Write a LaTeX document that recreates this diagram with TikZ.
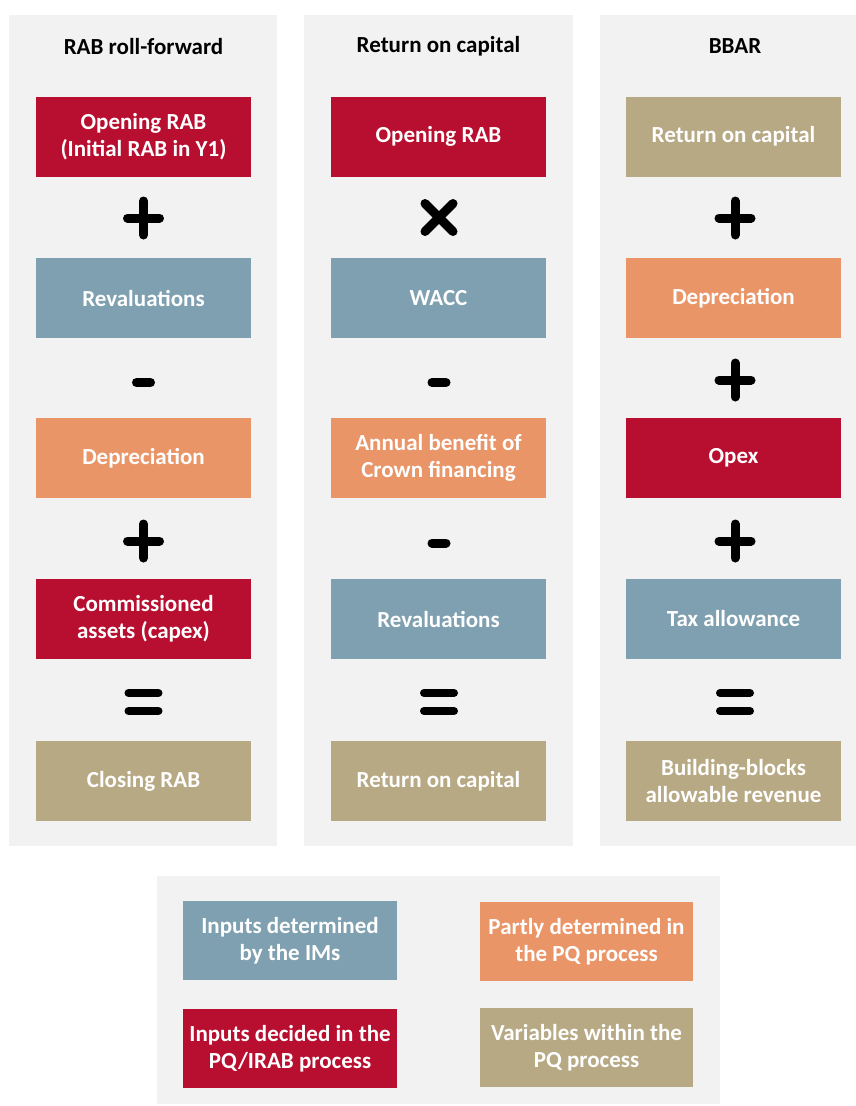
\documentclass[tikz,border=0pt]{standalone}
\usepackage{fontspec}
\setmainfont{Carlito}
\definecolor{panelbg}{HTML}{F2F2F2}
\definecolor{cred}{HTML}{B80E2F}
\definecolor{cblue}{HTML}{7FA0B0}
\definecolor{corange}{HTML}{E99568}
\definecolor{ctan}{HTML}{B8A985}
\begin{document}
\begin{tikzpicture}[x=1pt,y=-1pt,
  panel/.style={fill=panelbg,draw=none},
  blk/.style={minimum width=215pt,minimum height=80pt,inner sep=0pt,align=center,text=white,
    font=\fontsize{23}{27}\selectfont\bfseries},
  redbox/.style={blk,fill=cred},
  bluebox/.style={blk,fill=cblue},
  orangebox/.style={blk,fill=corange},
  tanbox/.style={blk,fill=ctan},
  header/.style={font=\fontsize{23}{27}\selectfont\bfseries,text=black},
  opline/.style={line width=9pt,line cap=round,black},
  opthin/.style={line width=8pt,line cap=round,black}
]
\useasboundingbox (0,0) rectangle (856,1106);
\fill[white] (0,0) rectangle (856,1106);
% panels
\fill[panel] (9,15) rectangle (277,846);
\fill[panel] (304,15) rectangle (573,846);
\fill[panel] (600,15) rectangle (856,846);
\fill[panel] (157,876) rectangle (720,1104);
% headers
\node[header] (h1) at (143.5,46.5) {RAB roll-forward};
\node[header] (h2) at (438.5,46.5) {Return on capital};
\node[header] (h3) at (735,46.5) {BBAR};
% column 1
\node[redbox] (a1) at (143.5,136.5) {Opening RAB\\(Initial RAB in Y1)};
\node[bluebox] (a2) at (143.5,298) {Revaluations};
\node[orangebox] (a3) at (143.5,458) {Depreciation};
\node[redbox] (a4) at (143.5,619) {Commissioned\\assets (capex)};
\node[tanbox] (a5) at (143.5,781) {Closing RAB};
% column 2
\node[redbox] (b1) at (438.5,136.5) {Opening RAB};
\node[bluebox] (b2) at (438.5,298) {WACC};
\node[orangebox] (b3) at (438.5,458) {Annual benefit of\\Crown financing};
\node[bluebox] (b4) at (438.5,619) {Revaluations};
\node[tanbox] (b5) at (438.5,781) {Return on capital};
% column 3
\node[tanbox] (c1) at (733.5,136.5) {Return on capital};
\node[orangebox] (c2) at (733.5,298) {Depreciation};
\node[redbox] (c3) at (733.5,458) {Opex};
\node[bluebox] (c4) at (733.5,619) {Tax allowance};
\node[tanbox] (c5) at (733.5,781) {Building-blocks\\allowable revenue};
% operators
\newcommand{\opplus}[2]{\draw[opline] (#1-16,#2) -- (#1+16,#2); \draw[opline] (#1,#2-17) -- (#1,#2+17);}
\newcommand{\opminus}[2]{\draw[opline] (#1-7,#2) -- (#1+7,#2);}
\newcommand{\opequal}[2]{\draw[opthin] (#1-15,#2-9) -- (#1+15,#2-9); \draw[opthin] (#1-15,#2+9) -- (#1+15,#2+9);}
\newcommand{\optimes}[2]{\draw[opline] (#1-14,#2-14) -- (#1+14,#2+14); \draw[opline] (#1-14,#2+14) -- (#1+14,#2-14);}
\opplus{143.5}{218}
\opminus{143.5}{382.5}
\opplus{143.5}{541}
\opequal{143.5}{702}
\optimes{439}{217.5}
\opminus{439}{382.5}
\opminus{439}{543}
\opequal{439}{702}
\opplus{735}{218}
\opplus{735}{380}
\opplus{735}{541}
\opequal{735}{702}
% legend
\node[bluebox,minimum width=214pt,minimum height=79pt] (l1) at (290,940.5) {Inputs determined\\by the IMs};
\node[orangebox,minimum width=213pt,minimum height=79pt] (l2) at (586.5,941.5) {Partly determined in\\the PQ process};
\node[redbox,minimum width=214pt,minimum height=79pt] (l3) at (290,1048.5) {Inputs decided in the\\PQ/IRAB process};
\node[tanbox,minimum width=213pt,minimum height=79pt] (l4) at (586.5,1047.5) {Variables within the\\PQ process};
\end{tikzpicture}
\end{document}
